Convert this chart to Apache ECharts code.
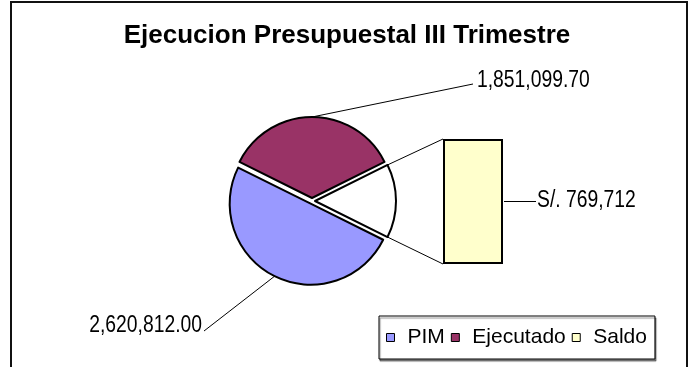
<!DOCTYPE html>
<html>
<head>
<meta charset="utf-8">
<title>Ejecucion Presupuestal III Trimestre</title>
<script src="https://cdn.jsdelivr.net/npm/echarts@6/dist/echarts.min.js"></script>
<style>
  html, body { margin: 0; padding: 0; background: #fff; }
  #chart { width: 694px; height: 367px; }
</style>
</head>
<body>
<div id="chart"></div>
<script>
// Budget execution, third quarter
const chartTitle = 'Ejecucion Presupuestal III Trimestre';
const categories = ['PIM', 'Ejecutado', 'Saldo'];
const amounts = [2620812.00, 1851099.70, 769712];
const otherSliceName = 'Otros';

// Styling
const sliceColors = { PIM: '#9999FF', Ejecutado: '#993366', Saldo: '#FFFFCC' };
const plainFont = "'Liberation Sans', Arial, sans-serif";
const valueFont = "23px 'Liberation Sans', Arial, sans-serif";
const NARROW = 0.84;   // horizontal squeeze giving a narrow face for value labels
const EXPLODE = 3;

// Where the pie value labels sit and where their leader lines end
const labelSpots = {
  PIM:       { x: 202, y: 326, align: 'right', end: [204, 331] },
  Ejecutado: { x: 477, y: 81,  align: 'left',  end: [473, 84] }
};

const fmt2 = v => v.toLocaleString('en-US', { minimumFractionDigits: 2, maximumFractionDigits: 2 });
const fmt0 = v => v.toLocaleString('en-US', { maximumFractionDigits: 0 });

const pim = amounts[categories.indexOf('PIM')];
const ejecutado = amounts[categories.indexOf('Ejecutado')];
const saldo = amounts[categories.indexOf('Saldo')];
const pieTotal = pim + ejecutado + saldo;
// the split-off slice is centred on the right-hand side of the pie
const startAngle = (saldo / pieTotal) * 360 / 2;

const border = { borderColor: '#000', borderWidth: 2 };

const pieData = [
  { name: otherSliceName, value: saldo, selected: true,
    itemStyle: Object.assign({ color: '#FFFFFF' }, border) },
  { name: 'PIM', value: pim, selected: true,
    itemStyle: Object.assign({ color: sliceColors.PIM }, border) },
  { name: 'Ejecutado', value: ejecutado, selected: true,
    itemStyle: Object.assign({ color: sliceColors.Ejecutado }, border) }
];

const frame = {
  type: 'rect', id: 'frame', z: 0, silent: true,
  shape: { x: 11, y: 2, width: 676, height: 420 },
  style: { fill: 'none', stroke: '#111', lineWidth: 2 }
};

const chart = echarts.init(document.getElementById('chart'), null, { renderer: 'canvas' });

chart.setOption({
  animation: false,
  backgroundColor: '#fff',
  title: {
    text: chartTitle,
    left: 'center',
    top: 18,
    textStyle: { fontFamily: plainFont, fontWeight: 'bold', fontSize: 26, color: '#000' }
  },
  legend: {
    data: categories,
    left: 379,
    top: 316,
    orient: 'horizontal',
    padding: [11, 8, 11, 7],
    itemGap: 6,
    itemWidth: 8,
    itemHeight: 8,
    icon: 'rect',
    selectedMode: false,
    backgroundColor: '#fff',
    borderColor: '#000',
    borderWidth: 1,
    shadowColor: 'rgba(0,0,0,0.45)',
    shadowOffsetX: 1,
    shadowOffsetY: 2,
    shadowBlur: 1,
    itemStyle: { borderColor: '#000', borderWidth: 1 },
    textStyle: { fontFamily: plainFont, fontSize: 21, color: '#000', padding: [0, 0, 0, 8] }
  },
  grid: { left: 443, top: 139, width: 60, height: 125, containLabel: false },
  xAxis: { type: 'category', data: ['Saldo'], show: false },
  yAxis: { type: 'value', min: 0, max: saldo, show: false },
  graphic: [frame],
  series: [
    {
      type: 'pie',
      name: 'Presupuesto',
      center: [312, 201],
      radius: 81,
      startAngle: startAngle,
      clockwise: true,
      selectedMode: 'multiple',
      selectedOffset: EXPLODE,
      silent: true,
      emphasis: { disabled: true },
      select: { itemStyle: border },
      data: pieData,
      label: { show: false },
      labelLine: { show: false }
    },
    {
      type: 'bar',
      name: 'Saldo',
      data: [saldo],
      barWidth: '100%',
      silent: true,
      itemStyle: Object.assign({ color: sliceColors.Saldo }, border),
      label: { show: false }
    }
  ]
});

function valueText(x, y, align, text) {
  return {
    type: 'text', silent: true, z: 6,
    x: x, y: y, scaleX: NARROW,
    style: {
      text: text, x: 0, y: 0, font: valueFont, fill: '#000',
      align: align, verticalAlign: 'middle',
      textAlign: align, textVerticalAlign: 'middle'
    }
  };
}

// Value labels, leader lines and connectors, placed from the rendered slice and bar geometry
function drawGuides() {
  const model = chart.getModel();
  const pieModel = model.getSeriesByIndex(0);
  const barModel = model.getSeriesByIndex(1);
  const pieLayout = pieModel.getData();
  const barLayout = barModel.getData();

  const sliceGeom = idx => {
    const l = pieLayout.getItemLayout(idx);
    const mid = (l.startAngle + l.endAngle) / 2;
    const ox = Math.cos(mid) * EXPLODE, oy = Math.sin(mid) * EXPLODE;
    const at = a => [l.cx + l.r * Math.cos(a) + ox, l.cy + l.r * Math.sin(a) + oy];
    return { start: at(l.startAngle), end: at(l.endAngle), mid: at(mid) };
  };

  const thin = { stroke: '#000', lineWidth: 1 };
  const guides = [frame];

  pieData.forEach((d, i) => {
    const spot = labelSpots[d.name];
    if (!spot) return;
    const g = sliceGeom(i);
    guides.push({ type: 'line', silent: true, z: 5,
      shape: { x1: g.mid[0], y1: g.mid[1], x2: spot.end[0], y2: spot.end[1] }, style: thin });
    guides.push(valueText(spot.x, spot.y, spot.align, fmt2(d.value)));
  });

  const other = sliceGeom(0);
  const b = barLayout.getItemLayout(0);
  const barLeft = b.x, barRight = b.x + b.width;
  const barTop = Math.min(b.y, b.y + b.height), barBottom = Math.max(b.y, b.y + b.height);
  const upper = other.start[1] < other.end[1] ? other.start : other.end;
  const lower = other.start[1] < other.end[1] ? other.end : other.start;
  guides.push({ type: 'line', silent: true, z: 5,
    shape: { x1: upper[0], y1: upper[1], x2: barLeft, y2: barTop }, style: thin });
  guides.push({ type: 'line', silent: true, z: 5,
    shape: { x1: lower[0], y1: lower[1], x2: barLeft, y2: barBottom }, style: thin });
  const midY = (barTop + barBottom) / 2;
  guides.push({ type: 'line', silent: true, z: 5,
    shape: { x1: barRight + 1, y1: midY, x2: barRight + 33, y2: midY }, style: thin });
  guides.push(valueText(barRight + 34, midY - 1, 'left', 'S/. ' + fmt0(saldo)));

  chart.setOption({ graphic: guides }, { replaceMerge: ['graphic'] });
}
drawGuides();
</script>
</body>
</html>
